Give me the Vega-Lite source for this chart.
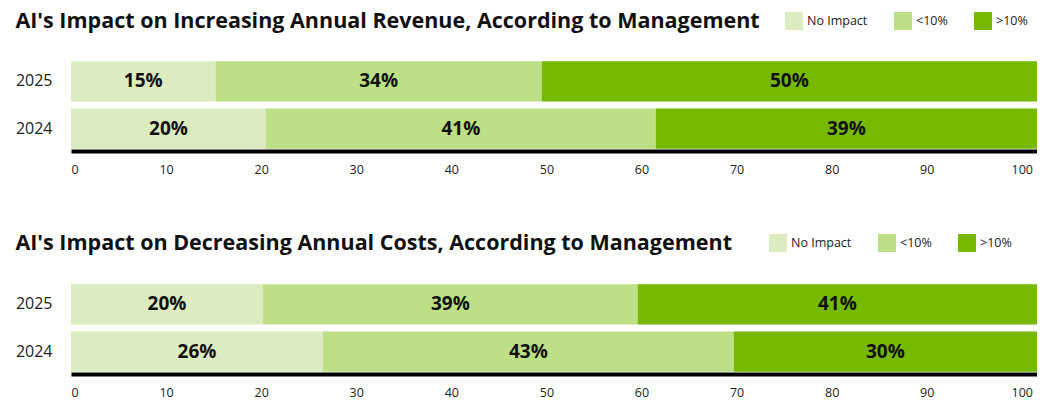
{
  "$schema": "https://vega.github.io/schema/vega-lite/v6.json",
  "background": "white",
  "padding": {"left": 15, "top": 10, "right": 0, "bottom": 0},
  "datasets": {
    "revenue": [
      {"year": "2025", "category": "No Impact", "order": 1, "value": 15.2, "label": "15%"},
      {"year": "2025", "category": "<10%", "order": 2, "value": 34.3, "label": "34%"},
      {"year": "2025", "category": ">10%", "order": 3, "value": 52.1, "label": "50%"},
      {"year": "2024", "category": "No Impact", "order": 1, "value": 20.5, "label": "20%"},
      {"year": "2024", "category": "<10%", "order": 2, "value": 41.0, "label": "41%"},
      {"year": "2024", "category": ">10%", "order": 3, "value": 40.1, "label": "39%"}
    ],
    "costs": [
      {"year": "2025", "category": "No Impact", "order": 1, "value": 20.2, "label": "20%"},
      {"year": "2025", "category": "<10%", "order": 2, "value": 39.4, "label": "39%"},
      {"year": "2025", "category": ">10%", "order": 3, "value": 42.0, "label": "41%"},
      {"year": "2024", "category": "No Impact", "order": 1, "value": 26.5, "label": "26%"},
      {"year": "2024", "category": "<10%", "order": 2, "value": 43.2, "label": "43%"},
      {"year": "2024", "category": ">10%", "order": 3, "value": 31.9, "label": "30%"}
    ]
  },
  "vconcat": [
    {
      "data": {"name": "revenue"},
      "title": {"text": "AI's Impact on Increasing Annual Revenue, According to Management"},
      "width": 966,
      "height": 92,
      "encoding": {
        "y": {"field": "year", "type": "ordinal", "sort": "descending", "title": null,
              "scale": {"paddingInner": 0.15, "paddingOuter": 0.05}}
      },
      "layer": [
        {
          "mark": {"type": "bar"},
          "encoding": {
            "x": {"field": "value", "type": "quantitative", "stack": "zero", "title": null,
                  "scale": {"domain": [0, 101.6], "nice": false},
                  "axis": {"values": [0, 10, 20, 30, 40, 50, 60, 70, 80, 90, 100]}},
            "color": {"field": "category", "type": "nominal",
                      "scale": {"domain": ["No Impact", "<10%", ">10%"], "range": ["#dcebc0", "#bddf85", "#76b900"]},
                      "legend": {"legendX": 714, "legendY": -47}},
            "order": {"field": "order", "type": "quantitative"}
          }
        },
        {
          "mark": {"type": "text", "font": "Open Sans", "fontWeight": "bold", "fontSize": 19, "color": "#111"},
          "encoding": {
            "x": {"field": "value", "type": "quantitative", "stack": "zero", "bandPosition": 0.5},
            "detail": {"field": "category"},
            "order": {"field": "order", "type": "quantitative"},
            "text": {"field": "label"}
          }
        }
      ]
    },
    {
      "data": {"name": "costs"},
      "title": {"text": "AI's Impact on Decreasing Annual Costs, According to Management"},
      "width": 966,
      "height": 92,
      "encoding": {
        "y": {"field": "year", "type": "ordinal", "sort": "descending", "title": null,
              "scale": {"paddingInner": 0.15, "paddingOuter": 0.05}}
      },
      "layer": [
        {
          "mark": {"type": "bar"},
          "encoding": {
            "x": {"field": "value", "type": "quantitative", "stack": "zero", "title": null,
                  "scale": {"domain": [0, 101.6], "nice": false},
                  "axis": {"values": [0, 10, 20, 30, 40, 50, 60, 70, 80, 90, 100]}},
            "color": {"field": "category", "type": "nominal",
                      "scale": {"domain": ["No Impact", "<10%", ">10%"], "range": ["#dcebc0", "#bddf85", "#76b900"]},
                      "legend": {"legendX": 698, "legendY": -48}},
            "order": {"field": "order", "type": "quantitative"}
          }
        },
        {
          "mark": {"type": "text", "font": "Open Sans", "fontWeight": "bold", "fontSize": 19, "color": "#111"},
          "encoding": {
            "x": {"field": "value", "type": "quantitative", "stack": "zero", "bandPosition": 0.5},
            "detail": {"field": "category"},
            "order": {"field": "order", "type": "quantitative"},
            "text": {"field": "label"}
          }
        }
      ]
    }
  ],
  "resolve": {"legend": {"color": "independent"}},
  "spacing": 56,
  "config": {
    "view": {"stroke": null},
    "title": {"font": "Open Sans", "fontSize": 21.5, "fontWeight": "bold", "color": "#111", "anchor": "start", "frame": "bounds", "offset": -20},
    "axisX": {
      "grid": false, "ticks": false,
      "domain": true, "domainColor": "#000", "domainWidth": 4,
      "labelFont": "Open Sans", "labelFontSize": 12.5, "labelColor": "#222", "labelPadding": 12
    },
    "axisY": {
      "grid": false, "ticks": false, "domain": false,
      "labelFont": "Open Sans", "labelFontSize": 16, "labelColor": "#222", "labelPadding": 19
    },
    "legend": {
      "orient": "none", "direction": "horizontal", "title": null,
      "symbolType": "square", "symbolSize": 324, "symbolStrokeWidth": 0, "symbolOpacity": 1,
      "labelFont": "Open Sans", "labelFontSize": 12.5, "labelColor": "#222", "labelOffset": 4,
      "columnPadding": 26
    }
  }
}
